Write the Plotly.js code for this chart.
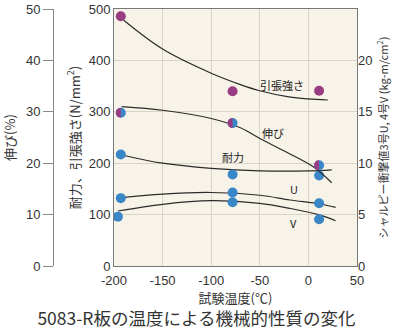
<!DOCTYPE html>
<html>
<head>
<meta charset="utf-8">
<script src="https://cdn.plot.ly/plotly-3.0.1.min.js"></script>
<style>html,body{margin:0;padding:0;background:#fff;}#chart{width:400px;height:331px;}</style>
</head>
<body>
<div id="chart"></div>
<script>
// Measured points
const temps = [-193, -78, 11];
const tempsV = [-196, -78, 11];
const tensile = [486, 340, 341];      // N/mm2
const elongation = [29.8, 27.8, 19.6]; // %
const proof = [217, 178, 176];        // N/mm2
const charpyU = [6.6, 7.15, 6.1];     // kg-m/cm2
const charpyV = [4.8, 6.2, 4.55];     // kg-m/cm2

// Fitted curves
const tensileCurveT = [-190, -150, -100, -70, -50, -20, 0, 20];
const tensileCurveV = [478, 422, 375, 353, 341, 329, 325, 323];
const elongCurveT = [-192, -150, -100, -70, -50, -20, 5, 24];
const elongCurveV = [31.0, 30.3, 28.7, 26.9, 24.8, 21.9, 19.3, 16.2];
const proofCurveT = [-192, -150, -100, -50, 0, 24];
const proofCurveV = [216, 200, 190, 185, 185, 187];
const uCurveT = [-192, -150, -100, -50, -19, 12, 28];
const uCurveV = [6.65, 7.0, 7.15, 6.88, 6.42, 6.03, 5.7];
const vCurveT = [-196, -150, -100, -50, -19, 12, 28];
const vCurveV = [5.35, 6.0, 6.35, 6.1, 5.6, 4.95, 4.4];

const xTicks = [-200, -150, -100, -50, 0, 50];
const xTickText = ['-200', '-150', '-100', '-50', '0', '50'];
const yTicks = [0, 100, 200, 300, 400, 500];
const pctTicks = [0, 10, 20, 30, 40, 50];
const charpyTicks = [0, 5, 10, 15, 20];

const purple = '#9a3c84';
const blue = '#3a87c8';
const lineCol = '#2b2b2b';
const FONT = 'Liberation Sans, Arial, Noto Sans CJK JP, sans-serif';
const JFONT = 'Noto Sans CJK JP, Liberation Sans, sans-serif';

const curve = (x, y, yaxis) => ({x, y, yaxis, type: 'scatter', mode: 'lines',
  line: {color: lineCol, width: 1.2, shape: 'spline'}, hoverinfo: 'skip', showlegend: false});
const pts = (x, y, yaxis, color) => ({x, y, yaxis, type: 'scatter', mode: 'markers',
  marker: {color, size: 10, line: {width: 0}}, showlegend: false});

const data = [
  curve(tensileCurveT, tensileCurveV, 'y'),
  curve(elongCurveT, elongCurveV, 'y2'),
  curve(proofCurveT, proofCurveV, 'y'),
  curve(uCurveT, uCurveV, 'y3'),
  curve(vCurveT, vCurveV, 'y3'),
  pts(temps, tensile, 'y', purple),
  pts(temps, elongation, 'y2', blue),
  pts(temps, proof, 'y', blue),
  pts(temps, charpyU, 'y3', blue),
  pts(tempsV, charpyV, 'y3', blue)
];

// left half of elongation markers in purple
const shapes = temps.map((t, i) => ({
  type: 'path', xref: 'x', yref: 'y2', xsizemode: 'pixel', ysizemode: 'pixel',
  xanchor: t, yanchor: elongation[i],
  path: 'M0,5 C-6.67,5 -6.67,-5 0,-5 Z',
  fillcolor: purple, line: {width: 0}, layer: 'above'
}));

const lbl = (text, x, y) => ({text, x, y, xref: 'x', yref: 'y', showarrow: false,
  font: {family: JFONT, size: 11, color: '#222'}});

const layout = {
  width: 400, height: 331,
  margin: {l: 0, r: 43, t: 9, b: 65},
  paper_bgcolor: '#ffffff',
  plot_bgcolor: '#f8f3e8',
  font: {family: FONT, size: 13, color: '#333'},
  title: {text: '5083-R板の温度による機械的性質の変化', xref: 'container', yref: 'container',
    x: 0.491, y: 1 - 319/331, xanchor: 'center', yanchor: 'middle',
    font: {family: JFONT, size: 17.5, color: '#333'}},
  xaxis: {domain: [114/357, 1], range: [-200, 50], tickvals: xTicks, ticktext: xTickText, ticks: '',
    showgrid: true, gridcolor: '#d9d3c8', gridwidth: 1, zeroline: false,
    showline: true, linecolor: '#777', linewidth: 1, mirror: true,
    tickfont: {size: 13, color: '#333'}, ticklabelstandoff: 2,
    title: {text: '試験温度(℃)', standoff: 6, font: {family: JFONT, size: 13, color: '#333'}}},
  yaxis: {range: [0, 500], tickvals: yTicks, ticks: '', showgrid: true, gridcolor: '#d9d3c8',
    zeroline: false, showline: true, linecolor: '#777', linewidth: 1, mirror: true,
    tickfont: {size: 13, color: '#333'},
    title: {text: '耐力、引張強さ(N/mm<sup>2</sup>)', standoff: 5, font: {family: JFONT, size: 13, color: '#333'}}},
  yaxis2: {overlaying: 'y', side: 'left', anchor: 'free', position: 53/357, range: [0, 50],
    tickvals: pctTicks, ticks: 'outside', ticklen: 10, tickcolor: '#888', tickwidth: 1,
    showgrid: false, zeroline: false, showline: true, linecolor: '#888', linewidth: 1,
    tickfont: {size: 13, color: '#333'},
    title: {text: '伸び(%)', standoff: 6, font: {family: JFONT, size: 13, color: '#333'}}},
  yaxis3: {overlaying: 'y', side: 'right', anchor: 'x', range: [0, 25],
    tickvals: charpyTicks, ticks: '', showgrid: false, zeroline: false,
    tickfont: {size: 13, color: '#333'},
    title: {text: 'シャルピー衝撃値3号U, 4号V (kg-m/cm<sup>2</sup>)', standoff: 8,
      font: {family: JFONT, size: 11, color: '#333'}}},
  shapes,
  annotations: [
    lbl('引張強さ', -27, 353),
    lbl('伸び', -36, 258),
    lbl('耐力', -78, 213),
    lbl('U', -15, 150),
    lbl('V', -15, 84)
  ],
  showlegend: false
};

Plotly.newPlot('chart', data, layout, {staticPlot: true, displayModeBar: false});
</script>
</body>
</html>
